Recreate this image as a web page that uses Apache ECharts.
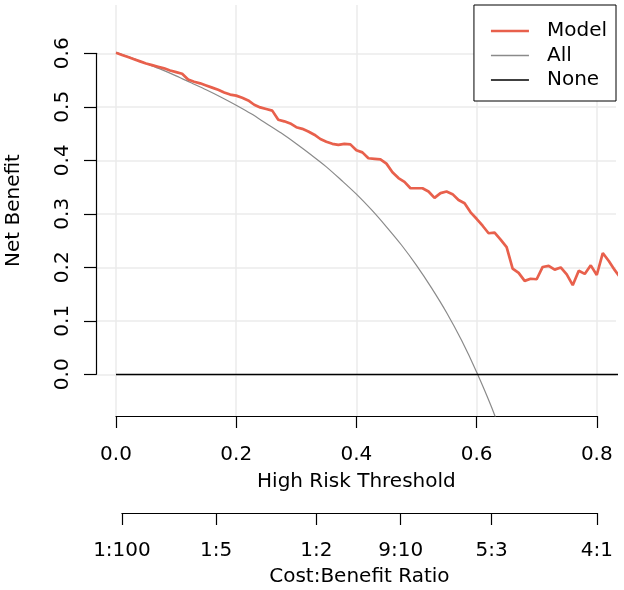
<!DOCTYPE html>
<html>
<head>
<meta charset="utf-8">
<script src="https://cdn.jsdelivr.net/npm/echarts@6/dist/echarts.min.js"></script>
<style>
  html, body { margin: 0; padding: 0; background: #fff; }
  #dca { width: 624px; height: 590px; }
</style>
</head>
<body>
<div id="dca"></div>
<script>
// thresholds and net benefit
var modelThreshold = [
  0.00, 0.01, 0.02, 0.03, 0.04, 0.05, 0.06, 0.07, 0.08, 0.09,
  0.10, 0.11, 0.12, 0.13, 0.14, 0.15, 0.16, 0.17, 0.18, 0.19,
  0.20, 0.21, 0.22, 0.23, 0.24, 0.25, 0.26, 0.27, 0.28, 0.29,
  0.30, 0.31, 0.32, 0.33, 0.34, 0.35, 0.36, 0.37, 0.38, 0.39,
  0.40, 0.41, 0.42, 0.43, 0.44, 0.45, 0.46, 0.47, 0.48, 0.49,
  0.50, 0.51, 0.52, 0.53, 0.54, 0.55, 0.56, 0.57, 0.58, 0.59,
  0.60, 0.61, 0.62, 0.63, 0.64, 0.65, 0.66, 0.67, 0.68, 0.69,
  0.70, 0.71, 0.72, 0.73, 0.74, 0.75, 0.76, 0.77, 0.78, 0.79,
  0.80, 0.81, 0.82, 0.83, 0.84
];
var modelNB = [
  0.601, 0.597, 0.593, 0.589, 0.585, 0.581, 0.578, 0.575, 0.572, 0.568,
  0.565, 0.562, 0.551, 0.547, 0.544, 0.540, 0.536, 0.532, 0.527, 0.523,
  0.521, 0.517, 0.512, 0.504, 0.499, 0.496, 0.493, 0.476, 0.473, 0.469,
  0.462, 0.459, 0.454, 0.448, 0.440, 0.435, 0.431, 0.429, 0.431, 0.430,
  0.419, 0.415, 0.404, 0.403, 0.402, 0.394, 0.378, 0.367, 0.360, 0.348,
  0.348, 0.348, 0.342, 0.330, 0.339, 0.342, 0.337, 0.326, 0.320, 0.303,
  0.291, 0.278, 0.264, 0.265, 0.252, 0.238, 0.198, 0.190, 0.175, 0.179,
  0.178, 0.201, 0.203, 0.196, 0.200, 0.187, 0.167, 0.194, 0.188, 0.204,
  0.186, 0.227, 0.212, 0.195, 0.180
];

var allThreshold = [
  0.000, 0.025, 0.050, 0.075, 0.100, 0.125, 0.150, 0.175, 0.200, 0.225,
  0.250, 0.275, 0.300, 0.325, 0.350, 0.375, 0.400, 0.425, 0.450, 0.475,
  0.500, 0.525, 0.550, 0.575, 0.600, 0.625, 0.650
];
var allNB = [
  0.602, 0.592, 0.581, 0.570, 0.558, 0.545, 0.532, 0.518, 0.503, 0.487,
  0.469, 0.451, 0.431, 0.410, 0.388, 0.363, 0.337, 0.308, 0.276, 0.242,
  0.204, 0.162, 0.116, 0.064, 0.005, -0.061, -0.137
];

var noneThreshold = [0, 0.84];
var noneNB = [0, 0];

var cbThresholds = [0.0099, 0.1667, 0.3333, 0.4737, 0.625, 0.8];
var cbLabels = ['1:100', '1:5', '1:2', '9:10', '5:3', '4:1'];

function pairs(xs, ys) {
  return xs.map(function (x, i) { return [x, ys[i]]; });
}

var FONT = 'DejaVu Sans';
var FS = 20;
var gridColor = '#ebebeb';
var modelColor = '#E8604C';
var allColor = '#8a8a8a';

var myChart = echarts.init(document.getElementById('dca'));

var option = {
  animation: false,
  textStyle: { fontFamily: FONT },
  grid: [
    // data panel
    { left: 96, right: 8, top: 5, bottom: 174, outerBoundsMode: 'none' },
    // threshold axis
    { left: 116, right: 27.2, top: 5, bottom: 174, outerBoundsMode: 'none' },
    // net benefit axis
    { left: 96, right: 8, top: 53.3, bottom: 215.7, outerBoundsMode: 'none' },
    // cost:benefit axis
    { left: 121.95, right: 27.2, top: 503, bottom: 77, outerBoundsMode: 'none' }
  ],
  xAxis: [
    { gridIndex: 0, type: 'value', min: -0.0333, max: 0.832, show: false },
    {
      gridIndex: 1, type: 'value', min: 0, max: 0.8, interval: 0.2,
      axisLine: { lineStyle: { color: '#000', width: 1.2 } },
      axisTick: { length: 12, lineStyle: { color: '#000', width: 1.2 } },
      axisLabel: {
        color: '#000', fontSize: FS, fontFamily: FONT, margin: 29,
        formatter: function (v) { return v.toFixed(1); }
      },
      splitLine: { show: true, lineStyle: { color: gridColor, width: 1.5 } },
      name: 'High Risk Threshold', nameLocation: 'middle', nameGap: 56,
      nameTextStyle: { color: '#000', fontSize: FS, fontFamily: FONT }
    },
    { gridIndex: 2, type: 'value', min: 0, max: 1, show: false },
    {
      gridIndex: 3, type: 'value', min: 0.0099, max: 0.8,
      axisLine: { lineStyle: { color: '#000', width: 1.2 } },
      axisTick: { length: 12, customValues: cbThresholds, lineStyle: { color: '#000', width: 1.2 } },
      axisLabel: {
        color: '#000', fontSize: FS, fontFamily: FONT, margin: 28,
        customValues: cbThresholds,
        formatter: function (v) {
          for (var i = 0; i < cbThresholds.length; i++) {
            if (Math.abs(cbThresholds[i] - v) < 1e-4) return cbLabels[i];
          }
          return '';
        }
      },
      splitLine: { show: false },
      name: 'Cost:Benefit Ratio', nameLocation: 'middle', nameGap: 54,
      nameTextStyle: { color: '#000', fontSize: FS, fontFamily: FONT }
    }
  ],
  yAxis: [
    {
      gridIndex: 0, type: 'value', min: -0.0774, max: 0.6903,
      axisLine: { show: false }, axisTick: { show: false },
      axisLabel: { show: false }, splitLine: { show: false },
      name: 'Net Benefit', nameLocation: 'middle', nameGap: 72, nameRotate: 90,
      nameTextStyle: { color: '#000', fontSize: FS, fontFamily: FONT }
    },
    { gridIndex: 1, type: 'value', min: 0, max: 1, show: false },
    {
      gridIndex: 2, type: 'value', min: 0, max: 0.6, interval: 0.1,
      axisLine: { show: true, lineStyle: { color: '#000', width: 1.2 } },
      axisTick: { show: true, length: 12, lineStyle: { color: '#000', width: 1.2 } },
      axisLabel: {
        color: '#000', fontSize: FS, fontFamily: FONT, margin: 23, rotate: 90,
        formatter: function (v) { return v.toFixed(1); }
      },
      splitLine: { show: true, lineStyle: { color: gridColor, width: 1.5 } }
    },
    { gridIndex: 3, type: 'value', min: 0, max: 1, show: false }
  ],
  legend: {
    data: [
      { name: 'Model', icon: 'path://M0 0H38V2.6H0Z' },
      { name: 'All', icon: 'path://M0 0H38V1.3H0Z' },
      { name: 'None', icon: 'path://M0 0H38V1.5H0Z' }
    ],
    orient: 'vertical',
    right: 8, top: 5,
    backgroundColor: '#fff',
    borderColor: '#000', borderWidth: 1, borderRadius: 0,
    padding: [16, 9, 11, 17],
    itemWidth: 38, itemHeight: 14, itemGap: 4.5,
    textStyle: { color: '#000', fontSize: FS, fontFamily: FONT, lineHeight: 20, padding: [0, 0, 0, 13] }
  },
  series: [
    {
      name: 'Model', type: 'line', xAxisIndex: 0, yAxisIndex: 0,
      data: pairs(modelThreshold, modelNB), symbol: 'none',
      lineStyle: { color: modelColor, width: 2.7 }, itemStyle: { color: modelColor }, z: 4
    },
    {
      name: 'All', type: 'line', xAxisIndex: 0, yAxisIndex: 0,
      data: pairs(allThreshold, allNB), symbol: 'none',
      smooth: 0.3,
      lineStyle: { color: allColor, width: 1.2 }, itemStyle: { color: allColor }, z: 3
    },
    {
      name: 'None', type: 'line', xAxisIndex: 0, yAxisIndex: 0,
      data: pairs(noneThreshold, noneNB), symbol: 'none',
      lineStyle: { color: '#000', width: 1.4 }, itemStyle: { color: '#000' }, z: 3
    }
  ]
};

myChart.setOption(option);
</script>
</body>
</html>
